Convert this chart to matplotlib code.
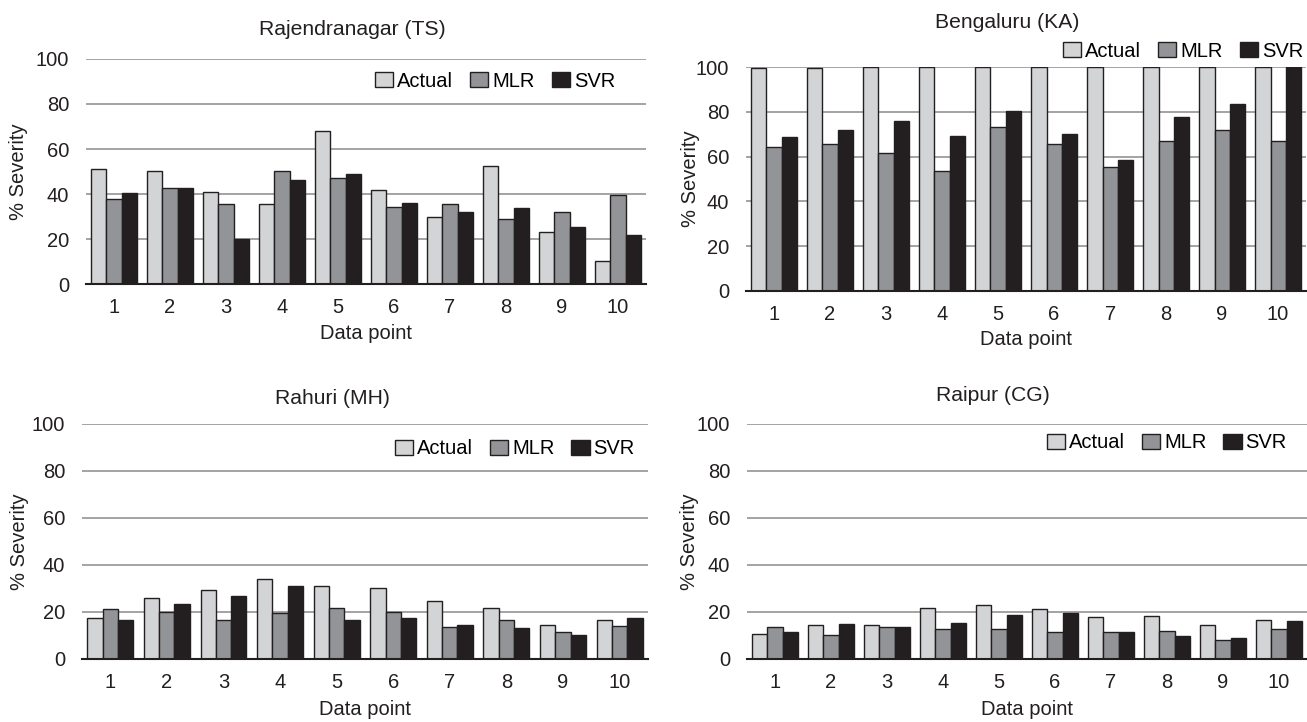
import numpy as np
import matplotlib.pyplot as plt

plt.rcParams['font.family'] = ['Liberation Sans', 'DejaVu Sans']

# Datos
puntos = np.arange(1, 11)
series = ['Actual', 'MLR', 'SVR']
colores = ['#d3d4d6', '#929497', '#231f20']

titulos = ['Rajendranagar (TS)', 'Bengaluru (KA)', 'Rahuri (MH)', 'Raipur (CG)']

# Rajendranagar (TS)
ts_actual = [51.0, 50.4, 40.8, 35.6, 67.8, 41.6, 29.6, 52.4, 22.9, 10.4]
ts_mlr = [37.9, 42.6, 35.5, 50.3, 46.9, 34.2, 35.5, 28.8, 32.0, 39.6]
ts_svr = [40.5, 42.6, 20.1, 46.3, 48.8, 36.2, 32.0, 33.7, 25.3, 21.9]

# Bengaluru (KA)
ka_actual = [99.6, 99.5, 100, 100, 100, 100, 100, 100, 100, 100]
ka_mlr = [64.3, 65.6, 61.4, 53.5, 73.3, 65.6, 55.3, 66.8, 72.0, 66.8]
ka_svr = [68.8, 71.8, 76.0, 69.3, 80.2, 70.0, 58.5, 77.8, 83.5, 101.0]

# Rahuri (MH)
mh_actual = [17.3, 25.8, 29.4, 33.9, 30.9, 30.4, 24.7, 21.7, 14.3, 16.6]
mh_mlr = [21.3, 19.9, 16.6, 19.4, 21.7, 19.9, 13.6, 16.6, 11.3, 14.2]
mh_svr = [16.6, 23.5, 27.0, 31.1, 16.6, 17.3, 14.3, 13.3, 10.2, 17.3]

# Raipur (CG)
cg_actual = [10.8, 14.3, 14.3, 21.7, 23.0, 21.3, 17.9, 18.3, 14.3, 16.6]
cg_mlr = [13.8, 10.1, 13.8, 12.6, 12.6, 11.5, 11.5, 11.9, 7.9, 12.6]
cg_svr = [11.5, 15.0, 13.8, 15.5, 18.9, 19.4, 11.5, 9.8, 8.8, 16.2]

datos = [
    [ts_actual, ts_mlr, ts_svr],
    [ka_actual, ka_mlr, ka_svr],
    [mh_actual, mh_mlr, mh_svr],
    [cg_actual, cg_mlr, cg_svr],
]

# Posiciones de los ejes [izq, abajo, ancho, alto] en fraccion de figura
posiciones = [
    [0.0658, 0.6066, 0.4285, 0.3117],
    [0.5708, 0.5970, 0.4285, 0.3102],
    [0.0627, 0.0873, 0.4330, 0.3255],
    [0.5715, 0.0873, 0.4285, 0.3255],
]
leyenda_pos = [(0.945, 0.902), (0.995, 1.071), (0.977, 0.894), (0.964, 0.919)]
titulo_pos = [(0.475, 1.129), (0.466, 1.20), (0.442, 1.11), (0.439, 1.119)]
ylabel_x = [-0.12, -0.10, -0.111, -0.102]
xlabel_y = [-0.218, -0.218, -0.213, -0.213]

fs = 14.5
ancho = 0.27

fig = plt.figure(figsize=(13.07, 7.22), dpi=100)

for k in range(4):
    ax = fig.add_axes(posiciones[k])
    for j in range(3):
        ax.bar(puntos + (j - 1) * ancho, datos[k][j], width=ancho,
               color=colores[j], edgecolor='#231f20', linewidth=1,
               label=series[j], zorder=3)
    ax.set_xlim(0.5, 10.5)
    ax.set_ylim(0, 100)
    ax.set_yticks([0, 20, 40, 60, 80, 100])
    ax.set_xticks(puntos)
    ax.grid(axis='y', color='#8a8a8a', linewidth=1.1, zorder=0)
    for lado in ['top', 'right', 'left']:
        ax.spines[lado].set_visible(False)
    ax.spines['bottom'].set_color('#231f20')
    ax.spines['bottom'].set_linewidth(1.5)
    ax.spines['bottom'].set_zorder(4)
    ax.tick_params(axis='both', length=0, labelsize=fs, colors='#231f20')
    ax.tick_params(axis='x', pad=10)
    ax.tick_params(axis='y', pad=12)

    ax.set_ylabel('% Severity', fontsize=fs, color='#231f20', va='center')
    ax.yaxis.set_label_coords(ylabel_x[k], 0.5)
    ax.set_xlabel('Data point', fontsize=fs, color='#231f20', va='center')
    ax.xaxis.set_label_coords(0.5, xlabel_y[k])

    ax.text(titulo_pos[k][0], titulo_pos[k][1], titulos[k], transform=ax.transAxes,
            ha='center', va='center', fontsize=15.2, color='#231f20')

    ax.legend(loc='center right', bbox_to_anchor=leyenda_pos[k], ncol=3,
              frameon=False, fontsize=fs, handlelength=0.9, handleheight=0.8,
              handletextpad=0.2, columnspacing=0.85, borderpad=0, borderaxespad=0)

plt.savefig('out.png', dpi=100)
